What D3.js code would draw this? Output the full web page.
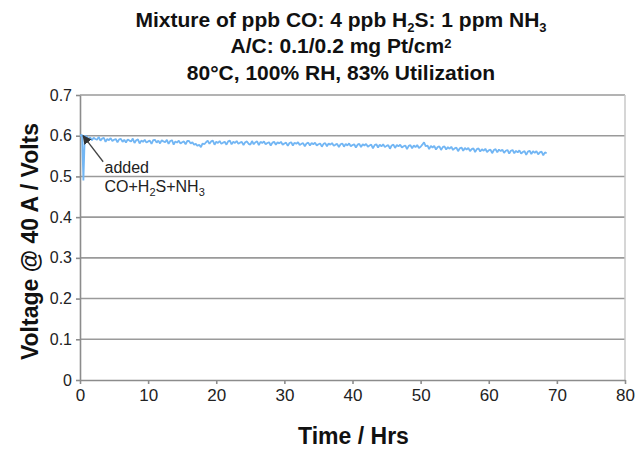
<!DOCTYPE html>
<html lang="en">
<head>
<meta charset="UTF-8">
<script src="https://cdn.jsdelivr.net/npm/d3@7"></script>
<title>Voltage vs time</title>
<style>
  body { margin: 0; background: #fff; }
  svg { font-family: "Liberation Sans", Arial, sans-serif; }
  .grid line { stroke: #9a9a9a; stroke-width: 1.6; }
  .axis path, .axis line { stroke: #8c8c8c; stroke-width: 1.6; }
  .axis text { fill: #222; }
  .title { font-size: 21px; font-weight: bold; fill: #111; text-anchor: middle; }
  .label { font-size: 23px; font-weight: bold; fill: #111; text-anchor: middle; }
  .note { font-size: 16px; fill: #222; }
</style>
</head>
<body>
<div id="chart"></div>
<script>
// first hour: the gas mixture is added, short dip
var startHours = [0, 0.3, 0.5, 0.7];
var startVolts = [0.600, 0.602, 0.490, 0.600];

// then readings every quarter hour from 1 h on
var firstHour = 1, stepHours = 0.25;
var volts = [
  0.598,0.591,0.596,0.589,0.595,0.592,0.590,0.597,0.588,0.593,0.595,0.585,0.592,0.589,0.594,0.587,0.590,0.592,0.584,0.591,
  0.592,0.585,0.590,0.583,0.591,0.588,0.586,0.593,0.582,0.589,0.591,0.581,0.588,0.585,0.590,0.583,0.586,0.588,0.580,0.589,
  0.590,0.583,0.588,0.581,0.589,0.586,0.584,0.590,0.580,0.587,0.589,0.578,0.586,0.583,0.588,0.581,0.584,0.586,0.579,0.587,
  0.587,0.581,0.584,0.578,0.580,0.575,0.578,0.572,0.581,0.579,0.584,0.588,0.580,0.586,0.588,0.578,0.585,0.582,0.587,0.580,
  0.583,0.585,0.578,0.586,0.588,0.579,0.585,0.582,0.587,0.580,0.583,0.585,0.577,0.584,0.586,0.580,0.578,0.587,0.579,0.584,
  0.586,0.577,0.585,0.582,0.586,0.579,0.582,0.584,0.576,0.583,0.585,0.578,0.584,0.581,0.585,0.578,0.581,0.583,0.575,0.582,
  0.584,0.576,0.583,0.580,0.584,0.577,0.580,0.582,0.574,0.581,0.583,0.576,0.582,0.579,0.583,0.576,0.579,0.581,0.573,0.580,
  0.582,0.574,0.581,0.578,0.582,0.575,0.578,0.580,0.572,0.579,0.581,0.573,0.580,0.576,0.581,0.574,0.577,0.579,0.571,0.578,
  0.580,0.572,0.579,0.576,0.580,0.573,0.576,0.578,0.569,0.577,0.579,0.571,0.578,0.574,0.579,0.572,0.575,0.577,0.568,0.576,
  0.578,0.570,0.577,0.574,0.578,0.571,0.574,0.576,0.567,0.575,0.577,0.569,0.576,0.572,0.577,0.570,0.573,0.578,0.584,0.574,
  0.576,0.567,0.575,0.571,0.575,0.566,0.572,0.574,0.565,0.572,0.574,0.566,0.572,0.568,0.573,0.565,0.569,0.571,0.562,0.569,
  0.571,0.563,0.570,0.566,0.570,0.562,0.567,0.569,0.560,0.567,0.569,0.561,0.567,0.563,0.568,0.560,0.564,0.566,0.557,0.565,
  0.567,0.559,0.566,0.562,0.566,0.558,0.563,0.565,0.556,0.563,0.565,0.557,0.563,0.559,0.564,0.556,0.560,0.562,0.553,0.561,
  0.563,0.555,0.562,0.558,0.562,0.554,0.559,0.561,0.552,0.559,0.557
];

var xTicks = [0, 10, 20, 30, 40, 50, 60, 70, 80];
var yTicks = [0, 0.1, 0.2, 0.3, 0.4, 0.5, 0.6, 0.7];
// title lines, split where a subscript / superscript goes
var titleLines = [
  [["Mixture of ppb CO: 4 ppb H", 0], ["2", 1], ["S: 1 ppm NH", 0], ["3", 1]],
  [["A/C: 0.1/0.2 mg Pt/cm", 0], ["2", -1]],
  [["80\u00b0C, 100% RH, 83% Utilization", 0]]
];

var data = [];
startHours.forEach(function(h, i) { data.push({t: h, v: startVolts[i]}); });
volts.forEach(function(v, i) { data.push({t: firstHour + i * stepHours, v: v}); });

var W = 644, H = 449;
var margin = {top: 95, right: 19, bottom: 69, left: 80};
var width = W - margin.left - margin.right;
var height = H - margin.top - margin.bottom;

var svg = d3.select("#chart").append("svg")
  .attr("width", W).attr("height", H);

var g = svg.append("g")
  .attr("transform", "translate(" + margin.left + "," + margin.top + ")");

var x = d3.scaleLinear().domain([0, 80]).range([0, width]);
var y = d3.scaleLinear().domain([0, 0.7]).range([height, 0]);

// horizontal gridlines
g.append("g").attr("class", "grid")
  .selectAll("line").data(yTicks.slice(1)).enter().append("line")
  .attr("x1", 0).attr("x2", width)
  .attr("y1", function(d) { return y(d); })
  .attr("y2", function(d) { return y(d); });

// right border
g.append("line")
  .attr("x1", width).attr("x2", width).attr("y1", 0).attr("y2", height)
  .attr("stroke", "#c8c8c8").attr("stroke-width", 1.5);

var xAxis = g.append("g").attr("class", "axis")
  .attr("transform", "translate(0," + height + ")")
  .call(d3.axisBottom(x).tickValues(xTicks).tickSize(4).tickSizeOuter(0).tickPadding(5));
xAxis.selectAll("text").style("font-size", "17px");

var yAxis = g.append("g").attr("class", "axis")
  .call(d3.axisLeft(y).tickValues(yTicks).tickSize(4).tickSizeOuter(0).tickPadding(4)
    .tickFormat(function(d) { return d === 0 ? "0" : d3.format(".1f")(d); }));
yAxis.selectAll("text").style("font-size", "16px");

// the voltage trace
var line = d3.line().x(function(d) { return x(d.t); }).y(function(d) { return y(d.v); });
g.append("path").datum(data)
  .attr("fill", "none")
  .attr("stroke", "#72b6f4")
  .attr("stroke-width", 1.8)
  .attr("stroke-linejoin", "bevel")
  .attr("d", line);

// annotation arrow
svg.append("defs").append("marker")
  .attr("id", "arr").attr("viewBox", "0 0 10 10")
  .attr("refX", 9).attr("refY", 5)
  .attr("markerWidth", 7).attr("markerHeight", 7)
  .attr("orient", "auto")
  .append("path").attr("d", "M0,0 L10,5 L0,10 Z").attr("fill", "#333");

g.append("line")
  .attr("x1", x(3.4)).attr("y1", y(0.536))
  .attr("x2", x(0.45)).attr("y2", y(0.6))
  .attr("stroke", "#444").attr("stroke-width", 1.3)
  .attr("marker-end", "url(#arr)");

g.append("text").attr("class", "note")
  .attr("x", x(3.6)).attr("y", y(0.509))
  .text("added");

var note2 = g.append("text").attr("class", "note")
  .attr("x", x(3.6)).attr("y", y(0.461));
note2.append("tspan").text("CO+H");
note2.append("tspan").attr("font-size", "11px").attr("dy", 4).text("2");
note2.append("tspan").attr("dy", -4).text("S+NH");
note2.append("tspan").attr("font-size", "11px").attr("dy", 4).text("3");

// titles
titleLines.forEach(function(parts, i) {
  var t = svg.append("text").attr("class", "title")
    .attr("x", 341).attr("y", 26.5 + i * 26.5);
  var shift = 0;
  parts.forEach(function(p) {
    var dy = p[1] * 5 - shift;
    shift = p[1] * 5;
    var s = t.append("tspan").attr("dy", dy).text(p[0]);
    if (p[1] !== 0) s.attr("font-size", "13px");
  });
});

svg.append("text").attr("class", "label")
  .attr("x", margin.left + width / 2 + 1).attr("y", 444)
  .text("Time / Hrs");

svg.append("text").attr("class", "label")
  .attr("transform", "translate(38," + (margin.top + height / 2 + 4) + ")rotate(-90)")
  .text("Voltage @ 40 A / Volts");
</script>
</body>
</html>
